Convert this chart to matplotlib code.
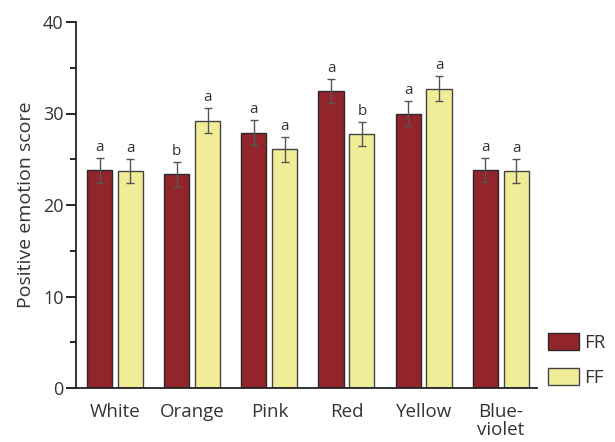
import numpy as np
import matplotlib
matplotlib.use("Agg")
import matplotlib.pyplot as plt

# data
colours = ['White', 'Orange', 'Pink', 'Red', 'Yellow', 'Blue-\nviolet']
fr_mean = [23.8, 23.35, 27.9, 32.5, 30.0, 23.8]
ff_mean = [23.7, 29.2, 26.1, 27.8, 32.7, 23.7]
fr_err = [1.35, 1.35, 1.35, 1.3, 1.35, 1.3]
ff_err = [1.3, 1.35, 1.35, 1.3, 1.35, 1.3]
fr_letters = ['a', 'b', 'a', 'a', 'a', 'a']
ff_letters = ['a', 'a', 'a', 'b', 'a', 'a']

plt.rcParams['font.family'] = ['Open Sans', 'DejaVu Sans']
txt_col = '#333333'

fig = plt.figure(figsize=(6.15, 4.42), dpi=100)
ax = fig.add_axes([76/615, 1-388/442, (537-76)/615, (388-22)/442])

x = np.arange(len(colours))
w = 0.325
off = 0.2
ekw = dict(ecolor='#555555', elinewidth=1.0, capsize=3, capthick=1.0)
b1 = ax.bar(x-off, fr_mean, w, yerr=fr_err, color='#92252b', edgecolor='#2a2a2a',
            linewidth=1.0, error_kw=ekw, label='FR')
b2 = ax.bar(x+off, ff_mean, w, yerr=ff_err, color='#f0ec98', edgecolor='#444444',
            linewidth=1.0, error_kw=ekw, label='FF')

for i in range(len(colours)):
    ax.text(x[i]-off, fr_mean[i]+fr_err[i]+0.35, fr_letters[i], ha='center', va='bottom',
            fontsize=11, color=txt_col)
    ax.text(x[i]+off, ff_mean[i]+ff_err[i]+0.35, ff_letters[i], ha='center', va='bottom',
            fontsize=11, color=txt_col)

ax.set_xlim(-0.506, len(colours)-1+0.47)
ax.set_ylim(0, 40)
ax.set_yticks([0, 10, 20, 30, 40])
ax.set_yticks([5, 15, 25, 35], minor=True)
ax.set_xticks(x)
ax.set_xticklabels(colours, fontsize=13.5, color=txt_col, linespacing=0.95)
ax.tick_params(axis='x', length=0, pad=11)
ax.tick_params(axis='y', which='major', length=7, width=1.2, labelsize=13,
               labelcolor=txt_col, pad=2)
ax.tick_params(axis='y', which='minor', length=4, width=1.2)
for s in ['top', 'right']:
    ax.spines[s].set_visible(False)
for s in ['left', 'bottom']:
    ax.spines[s].set_linewidth(1.3)
    ax.spines[s].set_color('#222222')
ax.set_ylabel('Positive emotion score', fontsize=14, color=txt_col, labelpad=6)

leg = ax.legend(loc='upper left', bbox_to_anchor=(548/615, 1-333/442),
                bbox_transform=fig.transFigure, frameon=False, fontsize=13.5,
                handlelength=1.65, handleheight=1.0, labelspacing=0.85,
                handletextpad=0.3, borderaxespad=0, borderpad=0)
for t in leg.get_texts():
    t.set_color(txt_col)

fig.savefig('out.png', dpi=100)
